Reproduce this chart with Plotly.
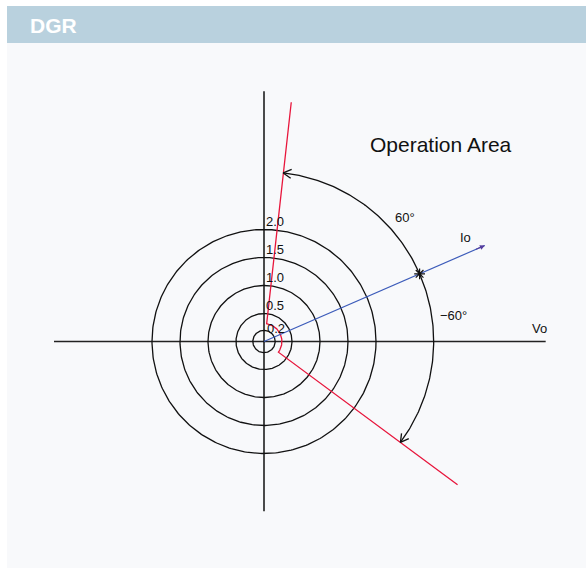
import numpy as np
import plotly.graph_objects as go

# ---------------- data ----------------
ring_radii = [0.2, 0.5, 1.0, 1.5, 2.0]
ring_labels = ["0.2", "0.5", "1.0", "1.5", "2.0"]
io_angle_deg = 23.5          # angle of Io relative to Vo
io_magnitude = 4.3
boundary_offset_deg = 60     # operation area = Io angle +/- 60 deg
boundary_inner_radius = 0.32
boundary_length = 4.3
operation_arc_radius = 3.03
angle_labels = ["60°", "−60°"]
axis_x_extent = [-3.75, 5.03]
axis_y_extent = [-3.03, 4.47]
title_text = "DGR"
area_text = "Operation Area"
vector_labels = ["Io", "Vo"]

# ---------------- layout constants ----------------
W, H = 586, 568
ML, MT = 7, 43
PX = 56.0                     # pixels per unit
OX, OY = 264.0, 341.5         # origin in figure pixels
PW, PH = W - ML, H - MT


def p2d(px, py):
    """figure pixel -> data coordinates"""
    return (px - OX) / PX, (OY - py) / PX


FONT = "Liberation Sans, Arial, sans-serif"
RED = "#e8163c"
BLUE = "#3d5cba"

fig = go.Figure()

# axes lines
fig.add_trace(go.Scatter(x=axis_x_extent, y=[0, 0], mode="lines",
                         line=dict(color="#222", width=1.5), hoverinfo="skip"))
fig.add_trace(go.Scatter(x=[0, 0], y=axis_y_extent, mode="lines",
                         line=dict(color="#111", width=1.5), hoverinfo="skip"))

# rings
t = np.linspace(0, 2 * np.pi, 361)
for r in ring_radii:
    fig.add_trace(go.Scatter(x=r * np.cos(t), y=r * np.sin(t), mode="lines",
                             line=dict(color="#111", width=1.3), hoverinfo="skip"))

# boundary (red)
a_up = np.radians(io_angle_deg + boundary_offset_deg)
a_dn = np.radians(io_angle_deg - boundary_offset_deg)
ang = np.linspace(a_up, a_dn, 60)
bx = np.concatenate([[boundary_length * np.cos(a_up)],
                     boundary_inner_radius * np.cos(ang),
                     [boundary_length * np.cos(a_dn)]])
by = np.concatenate([[boundary_length * np.sin(a_up)],
                     boundary_inner_radius * np.sin(ang),
                     [boundary_length * np.sin(a_dn)]])
fig.add_trace(go.Scatter(x=bx, y=by, mode="lines",
                         line=dict(color=RED, width=1.3), hoverinfo="skip"))

# Io vector (blue)
a_io = np.radians(io_angle_deg)
fig.add_trace(go.Scatter(x=[0, io_magnitude * np.cos(a_io)],
                         y=[0, io_magnitude * np.sin(a_io)], mode="lines",
                         line=dict(color=BLUE, width=1.2), hoverinfo="skip"))

# operation arc with arrows
arc = np.linspace(a_dn, a_up, 200)
R = operation_arc_radius
fig.add_trace(go.Scatter(x=R * np.cos(arc), y=R * np.sin(arc), mode="lines",
                         line=dict(color="#111", width=1.3), hoverinfo="skip"))
L, Wd = 8 / PX, 4.5 / PX
for a, sgn in [(a_up, 1), (a_dn, -1)]:
    tip = np.array([R * np.cos(a), R * np.sin(a)])
    d = sgn * np.array([-np.sin(a), np.cos(a)])
    n = np.array([-d[1], d[0]])
    w1 = tip - L * d + Wd * n
    w2 = tip - L * d - Wd * n
    fig.add_trace(go.Scatter(x=[w1[0], tip[0], w2[0]], y=[w1[1], tip[1], w2[1]],
                             mode="lines", line=dict(color="#111", width=1.3),
                             hoverinfo="skip"))

# intersection marker
fig.add_trace(go.Scatter(x=[R * np.cos(a_io)], y=[R * np.sin(a_io)], mode="markers",
                         marker=dict(symbol="asterisk-open", size=9, color="#111",
                                     line=dict(color="#111", width=1.2)),
                         hoverinfo="skip"))

annotations = []
# Io arrowhead
tipx, tipy = io_magnitude * np.cos(a_io), io_magnitude * np.sin(a_io)
annotations.append(dict(x=tipx, y=tipy, ax=tipx - 0.2 * np.cos(a_io),
                        ay=tipy - 0.2 * np.sin(a_io), xref="x", yref="y",
                        axref="x", ayref="y", text="", showarrow=True,
                        arrowhead=2, arrowsize=0.9, arrowwidth=1.1,
                        arrowcolor="#553d9e"))

# ring labels
for r, lab in zip(ring_radii, ring_labels):
    if r < 0.3:
        x, y = p2d(276, 328)
        yanchor = "middle"
    else:
        x = p2d(275, 0)[0]
        y = r
        yanchor = "bottom"
    annotations.append(dict(x=x, y=y, xref="x", yref="y", text=lab,
                            showarrow=False, xanchor="center", yanchor=yanchor,
                            font=dict(family=FONT, size=13, color="#111"),
                            yshift=-1 if yanchor == "bottom" else 0))

# other labels
for (px, py), txt, sz in [((405, 217), angle_labels[0], 13),
                          ((453, 315), angle_labels[1], 13),
                          ((465, 237), vector_labels[0], 13),
                          ((539, 328), vector_labels[1], 13),
                          ((441, 144), area_text, 21)]:
    x, y = p2d(px, py)
    annotations.append(dict(x=x, y=y, xref="x", yref="y", text=txt,
                            showarrow=False, xanchor="center", yanchor="middle",
                            font=dict(family=FONT, size=sz, color="#111")))

# header title
annotations.append(dict(x=(28 - ML) / PW, y=1 + (MT - 25) / PH,
                        xref="paper", yref="paper", text="<b>%s</b>" % title_text,
                        showarrow=False, xanchor="left", yanchor="middle",
                        font=dict(family=FONT, size=21, color="white")))

shapes = [dict(type="rect", xref="paper", yref="paper", x0=0, x1=1,
               y0=1, y1=1 + 37 / PH, fillcolor="#b9d1de",
               line=dict(width=0), layer="below")]

fig.update_layout(
    width=W, height=H,
    margin=dict(l=ML, r=0, t=MT, b=0, pad=0),
    paper_bgcolor="white", plot_bgcolor="#f8f9fb",
    showlegend=False,
    xaxis=dict(range=[-(OX - ML) / PX, (W - OX) / PX], visible=False,
               fixedrange=True),
    yaxis=dict(range=[-(H - OY) / PX, (OY - MT) / PX], visible=False,
               fixedrange=True),
    annotations=annotations, shapes=shapes,
)

fig.write_html("out.html",
               config={"displayModeBar": False, "staticPlot": True},
               post_script="document.body.style.margin='0';"
                           "document.body.style.overflow='hidden';")
